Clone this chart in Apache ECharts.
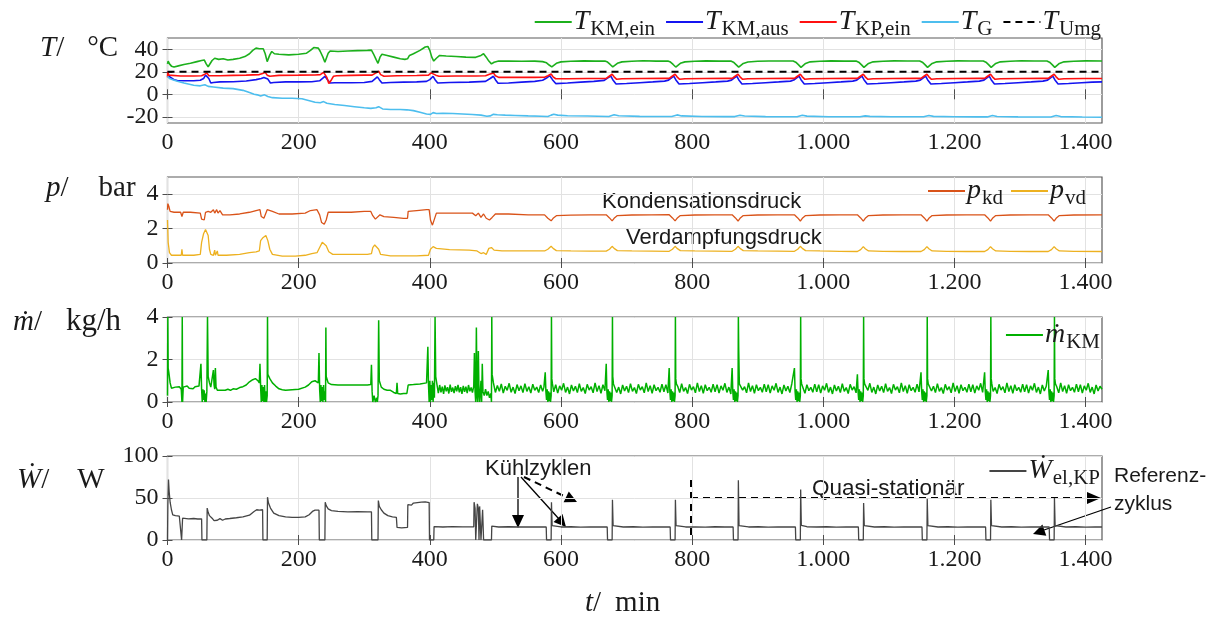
<!DOCTYPE html>
<html>
<head>
<meta charset="utf-8">
<script src="https://cdn.jsdelivr.net/npm/echarts@6/dist/echarts.min.js"></script>
<style>
html,body{margin:0;padding:0;background:#fff;}
#chart{width:1214px;height:620px;}
</style>
</head>
<body>
<div id="chart"></div>
<script>
// ---------- tick labels ----------
const xTicks = [0, 200, 400, 600, 800, 1000, 1200, 1400];
const xTickLabels = ['0', '200', '400', '600', '800', '1.000', '1.200', '1.400'];
const tTicks = [-20, 0, 20, 40];
const pTicks = [0, 2, 4];
const mTicks = [0, 2, 4];
const wTicks = [0, 50, 100];

// ---------- temperatures [min, °C] ----------
const tKmEin = [
[0,27],[1,29.5],[3,27],[6,25],[10,24.3],[15,25],[25,26.5],[35,27.5],[45,29],[52,30],[56,30.5],[59,27],[62,24.5],[64,25],[68,30],[72,32],[75,32.5],[78,31],[85,31.5],[92,30.5],[100,31],[110,32],[118,33.5],[125,36],[130,39],[135,41],[140,40.5],[146,40.5],[149,36],[152,29],[154,28],[156,35],[159,38],[163,36],[170,35.5],[185,35],[200,35.5],[212,36.5],[218,39],[223,41.5],[230,41],[233,38],[237,33],[240,28.5],[242,30],[245,36.5],[248,38.5],[260,38],[275,38.5],[290,38.8],[305,39],[311,39.2],[314,36],[318,31],[321,27.5],[324,33],[327,35.5],[335,34.5],[345,33],[355,31.5],[362,31],[366,31.5],[369,34.5],[375,36],[385,39],[393,42],[397,42.5],[400,39],[403,33],[406,29.5],[410,32],[415,34.5],[425,34],[440,33.5],[455,33],[470,32.8],[478,34.5],[482,36],[486,33],[490,29.5],[494,27],[498,28.5],[505,29.5],[520,29.5],[540,29.3],[560,29.5],[572,29],[578,28],[582,26],[586,24.3],[589,25.5],[593,27.5],[600,28.8],[615,29.3],[635,29.7],[652,29.5],
[667,29.5],[671,28.6],[675,26.5],[679,24.3],[682,25.5],[686,27.5],[693,28.8],[708,29.4],[725,29.8],[745,29.5],
[763,29.6],[767,28.6],[771,26.5],[775,24.2],[778,25.5],[782,27.5],[789,28.8],[804,29.4],[821,29.7],[841,29.5],
[859,29.6],[863,28.5],[867,26.4],[871,24.1],[874,25.4],[878,27.4],[885,28.7],[900,29.3],[917,29.6],[937,29.6],
[954,29.6],[958,28.5],[962,26.3],[966,23.9],[969,25.3],[973,27.4],[980,28.8],[995,29.4],[1012,29.7],[1032,29.5],
[1050,29.6],[1054,28.5],[1058,26.3],[1062,23.9],[1065,25.3],[1069,27.4],[1076,28.8],[1091,29.4],[1108,29.7],[1128,29.6],
[1147,29.6],[1151,28.5],[1155,26.3],[1159,23.9],[1162,25.3],[1166,27.4],[1173,28.8],[1188,29.4],[1205,29.7],[1225,29.6],
[1244,29.6],[1248,28.5],[1252,26.3],[1256,23.9],[1259,25.3],[1263,27.4],[1270,28.8],[1285,29.4],[1302,29.8],[1322,29.6],
[1341,29.6],[1345,28.5],[1349,26.3],[1353,23.9],[1356,25.3],[1360,27.4],[1367,28.8],[1382,29.4],[1400,29.7],[1425,29.6]
];
const tKmAus = [
[0,20],[2,16],[5,14.5],[10,13],[15,12.3],[25,12],[40,12],[50,12.5],[55,14],[58,17],[61,18.5],[63,14],[66,10],[70,10.5],[80,11],[100,11.2],[120,11.8],[135,13],[143,14],[147,15],[150,16],[153,13.5],[157,10],[162,10.5],[180,11],[200,11],[220,11.2],[232,12],[236,14],[240,16],[244,13],[248,10],[255,10.2],[280,10.3],[300,10.5],[312,11.5],[316,13.5],[320,15.5],[323,13],[327,10],[340,10.5],[360,10.8],[380,11],[395,11.5],[400,13],[405,16],[408,13],[412,10],[430,10.5],[460,10.8],[485,11.5],[492,14],[497,16],[500,13],[504,9.8],[520,10],[540,10.8],[560,11.5],[572,12.5],
[578,14.5],[583,16.5],[587,13],[592,9.5],[610,10],[630,10.8],[650,11.5],[666,12.4],
[671,14.3],[676,16.2],[679,13],[684,9.2],[700,9.6],[720,10.3],[740,11],[758,11.7],[764,12.6],
[767,14.3],[772,16.2],[775,13],[780,9.2],[796,9.6],[816,10.3],[836,11],[854,11.7],[860,12.6],
[863,14.3],[868,16.2],[871,13],[876,9.2],[892,9.6],[912,10.3],[932,11],[950,11.7],[955,12.6],
[958,14.3],[963,16.2],[966,13],[971,9.2],[987,9.6],[1007,10.3],[1027,11],[1045,11.7],[1051,12.6],
[1054,14.3],[1059,16.2],[1062,13],[1067,9.2],[1083,9.6],[1103,10.3],[1123,11],[1141,11.7],[1148,12.6],
[1151,14.3],[1156,16.2],[1159,13],[1164,9.2],[1180,9.6],[1200,10.3],[1220,11],[1238,11.7],[1245,12.6],
[1248,14.3],[1253,16.2],[1256,13],[1261,9.2],[1277,9.6],[1297,10.3],[1317,11],[1335,11.7],[1342,12.6],
[1345,14.3],[1350,16.2],[1353,13],[1358,9.2],[1374,9.6],[1394,10.3],[1410,10.8],[1425,11]
];
const tKpEin = [
[0,15],[0.5,20],[2,17],[5,16.5],[20,16.3],[40,16.3],[52,16.5],[56,17.5],[60,19],[63,16.5],[66,15.8],[80,16.5],[100,16.8],[120,17],[140,17.5],[145,18.5],[149,19.5],[152,17],[156,16],[170,16.8],[200,17],[225,17.2],[233,17.5],[238,19.5],[241,20.5],[243,15],[246,9.5],[249,12],[253,16],[258,16.5],[280,16.8],[300,17],[312,17],[318,19],[322,20.5],[325,17.5],[330,16],[350,16.5],[380,16.7],[398,17],[402,19],[405,20.5],[409,17],[414,16],[440,16.2],[470,16.2],[485,16.5],[492,18],[497,19],[500,16.5],[505,15],[530,15],[560,15],[575,15.2],
[580,16.5],[585,18],[588,15.5],[592,13.8],[610,13.8],[640,14],[669,14.1],
[673,15.8],[678,17.8],[681,15.5],[685,13.3],[693,13.8],[723,14],[758,14.1],
[765,14.1],[769,15.8],[774,17.8],[777,15.5],[781,13.3],[789,13.8],[819,14],[854,14.1],
[861,14.1],[865,15.8],[870,17.8],[873,15.5],[877,13.3],[885,13.8],[915,14],[950,14.1],
[956,14.1],[960,15.8],[965,17.8],[968,15.5],[972,13.3],[980,13.8],[1010,14],[1045,14.1],
[1052,14.1],[1056,15.8],[1061,17.8],[1064,15.5],[1068,13.3],[1076,13.8],[1106,14],[1141,14.1],
[1149,14.1],[1153,15.8],[1158,17.8],[1161,15.5],[1165,13.3],[1173,13.8],[1203,14],[1238,14.1],
[1246,14.1],[1250,15.8],[1255,17.8],[1258,15.5],[1262,13.3],[1270,13.8],[1300,14],[1335,14.1],
[1343,14.1],[1347,15.8],[1352,17.8],[1355,15.5],[1359,13.3],[1367,13.8],[1397,14],[1425,14]
];
const tG = [
[0,16],[3,14],[8,13],[15,11.5],[25,10],[40,8],[50,7.5],[57,8.5],[62,7],[70,6.5],[85,5.5],[100,5],[115,3.5],[125,1.5],[132,0],[137,-0.5],[142,-1.5],[148,-0.5],[153,-2],[160,-3],[175,-3.5],[190,-3.5],[205,-4],[215,-5.5],[225,-7],[233,-7.5],[238,-6.5],[243,-8],[255,-9],[270,-10],[285,-11],[300,-12],[310,-12.5],[318,-12],[322,-11],[328,-13],[340,-13.5],[355,-13.5],[365,-13.8],[375,-14.5],[385,-16],[395,-17.5],[401,-17.8],[405,-16.3],[410,-17],[420,-16.8],[435,-17],[450,-17.5],[465,-18],[478,-18.5],[487,-19.5],[492,-19.2],[497,-17.8],[503,-18.2],[515,-18.5],[530,-18.8],[550,-19.2],[570,-19.5],[580,-19.7],[585,-18.5],[589,-17.8],[595,-18.5],[610,-19],[640,-19.3],
[673,-19.7],[681,-18.2],[688,-19.1],[720,-19.6],[755,-19.7],
[769,-19.7],[777,-18.3],[784,-19.2],[815,-19.7],[850,-19.8],
[865,-19.8],[873,-18.6],[880,-19.3],[912,-19.8],[945,-19.9],
[960,-19.9],[968,-18.6],[975,-19.4],[1008,-19.9],[1040,-20],
[1056,-20],[1064,-19.2],[1071,-19.6],[1104,-20],[1138,-20],
[1153,-20],[1161,-18.8],[1168,-19.6],[1200,-20],[1235,-20.1],
[1250,-20.1],[1258,-18.8],[1265,-19.7],[1297,-20.1],[1332,-20.2],
[1347,-20.2],[1355,-18.9],[1362,-19.8],[1395,-20.2],[1425,-20.4]
];
const tUmg = [[0,20],[1425,20]];

// ---------- pressures [min, bar] ----------
const pKd = [
[0,3.1],[0.5,3.45],[2,3.3],[4,3.0],[10,2.95],[20,2.95],[22,2.7],[24,2.95],[35,2.95],[50,2.9],[52,2.55],[56,2.5],[58,2.95],[62,3.0],[66,2.95],[70,3.1],[72,2.9],[75,3.1],[77,2.9],[80,3.05],[84,2.8],[95,2.8],[110,2.85],[125,2.95],[135,3.05],[141,3.1],[143,2.7],[147,2.6],[150,2.7],[152,3.1],[155,3.15],[160,3.0],[170,2.85],[190,2.85],[210,2.9],[218,3.05],[228,3.1],[232,2.8],[235,2.35],[239,2.25],[242,2.5],[245,2.95],[255,2.95],[280,2.95],[300,3.0],[310,3.0],[313,2.75],[317,2.55],[320,2.65],[324,2.8],[330,2.7],[345,2.65],[360,2.6],[366,2.6],[367,3.0],[380,3.05],[395,3.1],[399,3.1],[401,2.5],[404,2.2],[407,2.3],[410,2.9],[420,2.9],[440,2.9],[465,2.9],[470,2.75],[474,2.9],[478,2.65],[482,2.85],[486,2.6],[491,2.5],[495,2.65],[500,2.85],[520,2.85],[550,2.8],
[575,2.8],[580,2.6],[585,2.45],[588,2.6],[593,2.75],[615,2.78],[645,2.8],
[669,2.8],[674,2.62],[678,2.45],[681,2.6],[686,2.76],[708,2.79],[738,2.8],
[765,2.81],[770,2.62],[774,2.45],[777,2.6],[782,2.76],[804,2.79],[834,2.8],
[861,2.8],[866,2.62],[870,2.44],[873,2.6],[878,2.76],[900,2.79],[930,2.8],
[956,2.8],[961,2.62],[965,2.44],[968,2.6],[973,2.76],[995,2.79],[1025,2.8],
[1052,2.8],[1057,2.62],[1061,2.43],[1064,2.6],[1069,2.76],[1091,2.79],[1121,2.8],
[1149,2.8],[1154,2.62],[1158,2.43],[1161,2.6],[1166,2.76],[1188,2.79],[1218,2.8],
[1246,2.8],[1251,2.62],[1255,2.43],[1258,2.6],[1263,2.76],[1285,2.79],[1315,2.8],
[1343,2.8],[1348,2.62],[1352,2.43],[1355,2.6],[1360,2.76],[1382,2.79],[1425,2.8]
];
const pVd = [
[0,2.5],[1,1.2],[3,0.6],[6,0.45],[15,0.45],[21,0.45],[22,0.8],[23,0.45],[40,0.45],[50,0.5],[52,1.2],[55,1.7],[58,1.95],[60,2.0],[62,1.6],[64,0.8],[66,0.5],[70,0.45],[72,0.75],[73,0.45],[76,0.7],[77,0.45],[90,0.45],[110,0.5],[125,0.6],[135,0.65],[140,0.7],[142,1.3],[145,1.45],[148,1.55],[150,1.6],[153,1.3],[156,0.8],[160,0.5],[175,0.4],[195,0.4],[210,0.45],[220,0.55],[228,0.6],[232,0.9],[236,1.2],[239,1.3],[242,1.0],[246,0.65],[252,0.5],[280,0.5],[305,0.5],[311,0.55],[313,0.9],[316,1.05],[319,1.1],[322,0.8],[325,0.5],[340,0.42],[365,0.42],[380,0.42],[398,0.45],[401,0.8],[405,0.95],[410,0.85],[430,0.78],[460,0.75],[472,0.7],[478,0.55],[482,0.6],[486,0.5],[490,0.85],[494,0.9],[498,0.75],[510,0.7],[540,0.7],
[575,0.7],[580,0.8],[585,0.97],[588,0.85],[593,0.72],[615,0.7],[645,0.69],
[669,0.69],[674,0.8],[678,0.97],[681,0.85],[686,0.72],[708,0.7],[738,0.69],
[765,0.68],[770,0.8],[774,0.97],[777,0.85],[782,0.72],[804,0.7],[834,0.69],
[861,0.68],[866,0.8],[870,0.97],[873,0.85],[878,0.72],[900,0.7],[930,0.69],
[956,0.68],[961,0.8],[965,0.97],[968,0.85],[973,0.72],[995,0.7],[1025,0.68],
[1052,0.67],[1057,0.78],[1061,0.95],[1064,0.83],[1069,0.7],[1091,0.68],[1121,0.67],
[1149,0.67],[1154,0.78],[1158,0.95],[1161,0.83],[1166,0.7],[1188,0.68],[1218,0.67],
[1246,0.67],[1251,0.78],[1255,0.95],[1258,0.83],[1263,0.7],[1285,0.68],[1315,0.67],
[1343,0.67],[1348,0.78],[1352,0.95],[1355,0.83],[1360,0.7],[1382,0.68],[1425,0.67]
];

// ---------- coolant mass flow [min, kg/h] ----------
const mKm = [
[0,0.3],[0.5,4],[1,1.6],[2,1.4],[4,0.9],[6,0.65],[9,0.6],[12,0.7],[15,0.62],[18,0.72],[21,0.6],[22,0],[22.5,4],[23,0],[24,0.7],[27,0.62],[30,0.75],[33,0.65],[36,0.7],[39,0.62],[42,0.72],[45,0.68],[48,0.75],[50,0.7],[51,1.8],[52,0.6],[53,0],[54,0.6],[55,0.1],[56,0.55],[57,0],[58,0.4],[59,0],[60,0.5],[61,4],[62,1.2],[64,0.9],[66,0.7],[68,0.65],[70,1.5],[71,0.8],[72,0.6],[73,1.6],[74,0.7],[76,0.55],[79,0.5],[82,0.55],[85,0.48],[88,0.55],[92,0.6],[96,0.55],[100,0.62],[105,0.6],[110,0.68],[115,0.72],[120,0.8],[125,0.95],[130,1.05],[134,1.1],[138,1.0],[140,0.9],[141,1.8],[142,0.7],[143,0],[144,0.8],[145,0.05],[146,0.7],[147,0],[148,0.8],[149,0],[150,0.5],[151,0],[152,0.3],[152.5,4],[153,1.3],[156,1.1],[160,0.9],[165,0.75],[170,0.62],[175,0.58],[180,0.55],[190,0.58],[200,0.6],[210,0.7],[215,0.8],[220,0.95],[225,1.0],[228,0.95],[230,0.9],[231,2.3],[232,0.6],[233,0],[234,0.8],[235,0.05],[236,0.7],[237,0],[238,0.8],[239,0.1],[240,0.5],[241,0],[241.5,3.5],[242,1.2],[245,0.9],[250,0.82],[260,0.8],[275,0.8],[290,0.8],[305,0.8],[310,0.82],[311,1.75],[312,0.5],[313,0],[315,0.3],[317,0],[319,0.2],[320,0],[321,0.3],[322,3.85],[323,1.0],[326,0.7],[330,0.6],[335,0.55],[340,0.55],[345,0.45],[349,0.4],[350,0.9],[351,0.4],[355,0.38],[360,0.4],[365,0.4],[366,0.45],[367,0.8],[375,0.82],[385,0.85],[395,0.9],[397,2.6],[398,0.8],[399,0],[400,1.0],[401,0],[402,0.8],[403,0.1],[404,1.0],[405,0],[406,0.9],[407,0.2],[408,4],[409,1.2],[411,0.8],
[413,0.42],[415,0.8],[417,0.45],[419,0.72],[421,0.38],[423,0.78],[425,0.5],[427,0.7],[429,0.4],[431,0.82],[433,0.48],[435,0.68],[437,0.42],[439,0.75],[441,0.5],[443,0.8],[445,0.45],[447,0.7],[449,0.38],[451,0.76],[453,0.48],[455,0.72],[457,0.42],[459,0.8],[461,0.5],[463,0.68],[465,0.44],[467,0.75],
[468,2.3],[469,0.5],[470,0],[471,3.5],[472,0.3],[473,0],[474,2.4],[475,0.4],[476,0],[478,1.0],[479,0],[480,1.8],[481,0.5],[483,0.3],[485,0.6],[487,0.3],[489,0.5],[491,0.2],[493,0.4],[494,0],[494.5,4],[495,1.3],
[497,0.9],[500,0.45],[503,0.78],[506,0.5],[509,0.85],[512,0.42],[515,0.74],[518,0.55],[521,0.88],[524,0.46],[527,0.7],[530,0.4],[533,0.82],[536,0.53],[539,0.76],[542,0.44],[545,0.86],[548,0.5],[551,0.72],[554,0.42],[557,0.84],[560,0.55],[563,0.7],[566,0.45],[569,0.8],[572,0.5],[574,0.7],
[576,1.4],[577,0.5],[578,0.1],[579,0.6],[580,0],[581,0.5],[582,0.05],[583,0.45],[584,0],[585,0.3],[585.5,4],[586,1.1],[587,0.85],
[589,0.48],[592,0.82],[595,0.42],[598,0.76],[601,0.55],[604,0.88],[607,0.45],[610,0.7],[613,0.38],[616,0.8],[619,0.52],[622,0.74],[625,0.44],[628,0.86],[631,0.5],[634,0.68],[637,0.4],[640,0.83],[643,0.56],[646,0.72],[649,0.43],[652,0.9],[655,0.49],[658,0.77],[661,0.41],[664,0.81],[667,0.53],
[669,1.8],[670,0.5],[671,0.1],[672,0.6],[673,0],[674,0.5],[675,0.05],[676,0.45],[677,0],[678,0.3],[678.5,4],[679,1.2],[680,0.85],
[682,0.88],[685,0.45],[688,0.7],[691,0.38],[694,0.8],[697,0.52],[700,0.74],[703,0.44],[706,0.86],[709,0.5],[712,0.68],[715,0.4],[718,0.83],[721,0.56],[724,0.72],[727,0.43],[730,0.9],[733,0.49],[736,0.77],[739,0.41],[742,0.81],[745,0.53],[748,0.69],[751,0.46],[754,0.84],[757,0.48],[760,0.82],[763,0.42],
[765,1.6],[766,0.5],[767,0.1],[768,0.6],[769,0],[770,0.5],[771,0.05],[772,0.45],[773,0],[774,0.3],[774.5,4],[775,1.1],[776,0.85],
[778,0.74],[781,0.44],[784,0.86],[787,0.5],[790,0.68],[793,0.4],[796,0.83],[799,0.56],[802,0.72],[805,0.43],[808,0.9],[811,0.49],[814,0.77],[817,0.41],[820,0.81],[823,0.53],[826,0.69],[829,0.46],[832,0.84],[835,0.48],[838,0.82],[841,0.42],[844,0.76],[847,0.55],[850,0.88],[853,0.45],[856,0.7],[859,0.38],
[861,1.6],[862,0.5],[863,0.1],[864,0.6],[865,0],[866,0.5],[867,0.05],[868,0.45],[869,0],[870,0.3],[870.5,4],[871,2.5],[872,0.85],
[874,0.83],[877,0.56],[880,0.72],[883,0.43],[886,0.9],[889,0.49],[892,0.77],[895,0.41],[898,0.81],[901,0.53],[904,0.69],[907,0.46],[910,0.84],[913,0.48],[916,0.82],[919,0.42],[922,0.76],[925,0.55],[928,0.88],[931,0.45],[934,0.7],[937,0.38],[940,0.8],[943,0.52],[946,0.74],[949,0.44],[952,0.86],
[956,1.6],[957,0.5],[958,0.1],[959,0.6],[960,0],[961,0.5],[962,0.05],[963,0.45],[964,0],[965,0.3],[965.5,4],[966,1.1],[967,0.85],
[969,0.77],[972,0.41],[975,0.81],[978,0.53],[981,0.69],[984,0.46],[987,0.84],[990,0.48],[993,0.82],[996,0.42],[999,0.76],[1002,0.55],[1005,0.88],[1008,0.45],[1011,0.7],[1014,0.38],[1017,0.8],[1020,0.52],[1023,0.74],[1026,0.44],[1029,0.86],[1032,0.5],[1035,0.68],[1038,0.4],[1041,0.83],[1044,0.56],[1047,0.72],[1050,0.43],
[1052,1.3],[1053,0.5],[1054,0.1],[1055,0.6],[1056,0],[1057,0.5],[1058,0.05],[1059,0.45],[1060,0],[1061,0.3],[1061.5,4],[1062,1.1],[1063,0.85],
[1065,0.76],[1068,0.55],[1071,0.88],[1074,0.45],[1077,0.7],[1080,0.38],[1083,0.8],[1086,0.52],[1089,0.74],[1092,0.44],[1095,0.86],[1098,0.5],[1101,0.68],[1104,0.4],[1107,0.83],[1110,0.56],[1113,0.72],[1116,0.43],[1119,0.9],[1122,0.49],[1125,0.77],[1128,0.41],[1131,0.81],[1134,0.53],[1137,0.69],[1140,0.46],[1143,0.84],[1146,0.48],
[1149,1.4],[1150,0.5],[1151,0.1],[1152,0.6],[1153,0],[1154,0.5],[1155,0.05],[1156,0.45],[1157,0],[1158,0.3],[1158.5,4],[1159,1.1],[1160,0.85],
[1162,0.8],[1165,0.52],[1168,0.74],[1171,0.44],[1174,0.86],[1177,0.5],[1180,0.68],[1183,0.4],[1186,0.83],[1189,0.56],[1192,0.72],[1195,0.43],[1198,0.9],[1201,0.49],[1204,0.77],[1207,0.41],[1210,0.81],[1213,0.53],[1216,0.69],[1219,0.46],[1222,0.84],[1225,0.48],[1228,0.82],[1231,0.42],[1234,0.76],[1237,0.55],[1240,0.88],[1243,0.45],
[1246,1.4],[1247,0.5],[1248,0.1],[1249,0.6],[1250,0],[1251,0.5],[1252,0.05],[1253,0.45],[1254,0],[1255,0.3],[1255.5,4],[1256,1.1],[1257,0.85],
[1259,0.5],[1262,0.68],[1265,0.4],[1268,0.83],[1271,0.56],[1274,0.72],[1277,0.43],[1280,0.9],[1283,0.49],[1286,0.77],[1289,0.41],[1292,0.81],[1295,0.53],[1298,0.69],[1301,0.46],[1304,0.84],[1307,0.48],[1310,0.82],[1313,0.42],[1316,0.76],[1319,0.55],[1322,0.88],[1325,0.45],[1328,0.7],[1331,0.38],[1334,0.8],[1337,0.52],[1340,0.74],
[1343,1.5],[1344,0.5],[1345,0.1],[1346,0.6],[1347,0],[1348,0.5],[1349,0.05],[1350,0.45],[1351,0],[1352,0.3],[1352.5,4],[1353,1.1],[1354,0.85],
[1356,0.72],[1359,0.43],[1362,0.9],[1365,0.49],[1368,0.77],[1371,0.41],[1374,0.81],[1377,0.53],[1380,0.69],[1383,0.46],[1386,0.84],[1389,0.48],[1392,0.82],[1395,0.42],[1398,0.76],[1401,0.55],[1404,0.88],[1407,0.45],[1410,0.7],[1413,0.38],[1416,0.8],[1419,0.52],[1422,0.74],[1425,0.6]
];

// ---------- compressor power [min, W] ----------
const wElKp = [
[0,0],[0.5,42],[1.5,72],[2.5,58],[4,45],[6,36],[8,30],[12,29],[18,28.5],[21,28],[21.5,0],[22.5,0],[23,26],[26,25.5],[32,25.2],[40,25.6],[46,25],[52,25.2],[52.5,0],[60,0],[60.5,38],[62,33],[64,29],[65,30],[66,27],[67,31],[68,26],[70,28],[71,23],[73,24],[76,23.5],[80,25.5],[84,23.5],[88,25],[95,25.6],[105,26.5],[115,27.5],[125,29.5],[132,34],[136,36],[140,35.5],[145,36],[145.5,0],[152,0],[152.5,51],[154,44],[157,38],[162,32],[170,29],[180,27.5],[190,27],[200,27],[210,27.5],[216,30],[221,34],[225,35.5],[231,35.5],[231.5,0],[240,0],[240.5,45],[242,41],[245,37],[250,35],[260,34],[275,33.5],[290,33.8],[305,33.5],[311,33.5],[311.5,0],[321,0],[321.5,47],[323,40],[326,36],[330,32],[336,29],[343,27.5],[349,27],[350,15],[357,14.5],[366,15],[366.5,42],[369,43.5],[372,41.5],[375,44],[378,42],[381,44.5],[384,42.5],[387,45],[390,43],[393,45.5],[396,43.5],[399,44.5],[399.5,0],[406,0],[406.5,16],[420,15.5],[435,16],[450,15.6],[467,15.8],[467.5,45],[469,38],[470,0],[472,0],[472.5,43],[474,38],[475,0],[476,40],[478,0],[480,0],[480.5,36],[482,0],[494,0],[494.5,16.5],[505,15.5],[520,15.8],[535,15.5],[550,15.7],[565,15.5],[577.5,15.5],
[578,0],[585,0],[585.5,45],[586.5,17],[588,15.8],[600,15.5],[615,15.8],[630,15.4],[645,15.7],[660,15.5],[670.5,15.6],
[671,0],[678,0],[678.5,48],[679.5,17],[681,15.8],[695,15.5],[710,15.8],[725,15.4],[740,15.7],[755,15.5],[766.5,15.6],
[767,0],[774,0],[774.5,48],[775.5,17],[777,15.8],[790,15.5],[805,15.7],[820,15.4],[835,15.8],[850,15.5],[862.5,15.6],
[863,0],[870,0],[870.5,71],[871.5,17],[873,15.8],[886,15.5],[901,15.8],[916,15.4],[931,15.7],[946,15.5],[957.5,15.6],
[958,0],[965,0],[965.5,60],[966.5,17.5],[968,16.2],[975,15.8],[990,15.5],[1005,15.8],[1020,15.4],[1035,15.7],[1053.5,15.5],
[1054,0],[1061,0],[1061.5,44],[1062.5,17],[1064,15.8],[1078,15.5],[1093,15.8],[1108,15.4],[1123,15.7],[1138,15.5],[1150.5,15.6],
[1151,0],[1158,0],[1158.5,49],[1159.5,17],[1161,15.8],[1175,15.5],[1190,15.8],[1205,15.4],[1220,15.7],[1235,15.5],[1247.5,15.6],
[1248,0],[1255,0],[1255.5,48],[1256.5,17],[1258,15.8],[1272,15.5],[1287,15.8],[1302,15.4],[1317,15.7],[1332,15.5],[1344.5,15.6],
[1345,0],[1352,0],[1352.5,50],[1353.5,17],[1355,15.8],[1370,15.5],[1385,15.8],[1400,15.4],[1415,15.7],[1425,15.5]
];

// ---------- layout ----------
const SERIF = 'Liberation Serif';
const SANS = 'Liberation Sans';
const INK = '#1a1a1a';
// labelSets: the tight temperature labels are split over two overlaid left axes
const panels = [
  { top: 38,  height: 85, min: -25.5, max: 50,  ticks: tTicks, labelSets: [[-20, 20], [0, 40]] },
  { top: 177, height: 86, min: 0,     max: 5,   ticks: pTicks, labelSets: [pTicks] },
  { top: 317, height: 85, min: 0,     max: 4,   ticks: mTicks, labelSets: [mTicks] },
  { top: 456, height: 84, min: 0,     max: 100, ticks: wTicks, labelSets: [wTicks] }
];
const tickLine = { color: '#4d4d4d', width: 1 };
const gridLine = { color: '#e2e2e2', width: 1 };
const yLabelStyle = { fontFamily: SERIF, fontSize: 24, color: INK, margin: 9,
                      hideOverlap: false, showMinLabel: true, showMaxLabel: true };

const xAxis = [], yAxis = [], extraY = [];
panels.forEach((p, i) => {
  xAxis.push({
    type: 'value', gridIndex: i, min: 0, max: 1425, position: 'bottom',
    axisLine: { show: false },
    axisTick: { inside: true, length: 5, lineStyle: tickLine, customValues: xTicks },
    axisLabel: { customValues: xTicks, formatter: v => xTickLabels[xTicks.indexOf(v)],
                 fontFamily: SERIF, fontSize: 24, color: INK, margin: 8,
                 hideOverlap: false, showMinLabel: true, showMaxLabel: true },
    splitLine: { show: true, lineStyle: gridLine }
  });
  xAxis.push({
    type: 'value', gridIndex: i, min: 0, max: 1425, position: 'top',
    axisLine: { show: false },
    axisTick: { inside: true, length: 5, lineStyle: tickLine, customValues: xTicks },
    axisLabel: { show: false }, splitLine: { show: false }
  });
  yAxis.push({
    type: 'value', gridIndex: i, min: p.min, max: p.max, position: 'left',
    axisLine: { show: false },
    axisTick: { inside: true, length: 5, lineStyle: tickLine, customValues: p.ticks },
    axisLabel: Object.assign({ customValues: p.labelSets[0] }, yLabelStyle),
    splitLine: { show: true, lineStyle: gridLine }
  });
  yAxis.push({
    type: 'value', gridIndex: i, min: p.min, max: p.max, position: 'right',
    axisLine: { show: false },
    axisTick: { inside: true, length: 5, lineStyle: tickLine, customValues: p.ticks },
    axisLabel: { show: false }, splitLine: { show: false }
  });
  p.labelSets.slice(1).forEach(set => extraY.push({
    type: 'value', gridIndex: i, min: p.min, max: p.max, position: 'left', offset: 0,
    axisLine: { show: false }, axisTick: { show: false }, splitLine: { show: false },
    axisLabel: Object.assign({ customValues: set }, yLabelStyle)
  }));
});
yAxis.push(...extraY);

function line(name, data, panel, color, width, extra) {
  return {
    name, type: 'line', data, xAxisIndex: panel * 2, yAxisIndex: panel * 2,
    symbol: 'none', showSymbol: false, animation: false, clip: true,
    lineStyle: Object.assign({ color, width }, extra || {}),
    itemStyle: { color }
  };
}

const series = [
  line('T_KM,ein', tKmEin, 0, '#1cb01c', 1.6),
  line('T_KM,aus', tKmAus, 0, '#1414f0', 1.6),
  line('T_KP,ein', tKpEin, 0, '#ff1010', 1.6),
  line('T_G', tG, 0, '#4dbeee', 1.6),
  line('T_Umg', tUmg, 0, '#000000', 2, { type: [7, 5] }),
  line('p_kd', pKd, 1, '#d95319', 1.3),
  line('p_vd', pVd, 1, '#edb120', 1.3),
  line('m_KM', mKm, 2, '#00b000', 1.5),
  line('W_el,KP', wElKp, 3, '#454545', 1.3)
];

const legendText = {
  'T_KM,ein': '{v|T}{s|KM,ein}',
  'T_KM,aus': '{v|T}{s|KM,aus}',
  'T_KP,ein': '{v|T}{s|KP,ein}',
  'T_G': '{v|T}{s|G}',
  'T_Umg': '{v|T}{s|Umg}',
  'p_kd': '{v|p}{s|kd}',
  'p_vd': '{v|p}{s|vd}',
  'm_KM': '{v|ṁ}{s|KM}',
  'W_el,KP': '{v|Ẇ}{s|el,KP}'
};
const legendRich = {
  v: { fontFamily: SERIF, fontStyle: 'italic', fontSize: 28, color: INK },
  s: { fontFamily: SERIF, fontSize: 21, color: INK, padding: [15, 0, 0, 1] }
};
function legend(names, top, right, gap) {
  return {
    data: names, top, right, orient: 'horizontal', padding: 0,
    itemWidth: 37, itemHeight: 12, itemGap: gap, selectedMode: false,
    itemStyle: { opacity: 0 },
    formatter: n => legendText[n],
    textStyle: { rich: legendRich, padding: [0, 0, 0, -3] }
  };
}

// ---------- annotations ----------
const txt = (x, y, text, size) => ({
  type: 'text', x, y, silent: true,
  style: { text, fontFamily: SANS, fontSize: size || 22, fill: INK, align: 'left', verticalAlign: 'middle' }
});
const axisTitle = (x, y, sym, unit, gap, unitSize) => ({
  type: 'text', x, y, silent: true,
  style: {
    text: '{i|' + sym + '}{r|/}{u|' + unit + '}', align: 'left', verticalAlign: 'middle',
    rich: {
      i: { fontFamily: SERIF, fontStyle: 'italic', fontSize: 29, fill: INK, color: INK },
      r: { fontFamily: SERIF, fontSize: 29, fill: INK, color: INK },
      u: { fontFamily: SERIF, fontSize: unitSize || 29, fill: INK, color: INK, padding: [0, 0, 0, gap] }
    }
  }
});
const seg = (x1, y1, x2, y2, dash) => ({
  type: 'line', silent: true,
  shape: { x1, y1, x2, y2 },
  style: { stroke: '#000', lineWidth: dash ? 2 : 1.3, lineDash: dash ? [7, 5] : null }
});
const head = (pts) => ({ type: 'polygon', silent: true, shape: { points: pts }, style: { fill: '#000' } });

const graphic = [
  axisTitle(40, 48, 'T', '°C', 23),
  axisTitle(46, 188, 'p', 'bar', 30),
  axisTitle(13, 322, 'ṁ', 'kg/h', 24, 31),
  axisTitle(17, 480, 'Ẇ', 'W', 28),
  axisTitle(585, 603, 't', 'min', 14),
  txt(602, 202, 'Kondensationsdruck', 22),
  txt(626, 238, 'Verdampfungsdruck', 22),
  txt(485, 469, 'Kühlzyklen', 22),
  txt(812, 489, 'Quasi-stationär', 22.5),
  txt(1114, 476, 'Referenz-', 21),
  txt(1114, 504, 'zyklus', 21),
  // arrows from "Kühlzyklen"
  seg(518, 477, 518, 516),
  head([[518, 528], [512, 515], [524, 515]]),
  seg(521, 477, 559, 519),
  head([[566, 527], [553.5, 522.1], [562.5, 514.1]]),
  seg(524, 477, 566, 497, true),
  head([[577, 502], [563.6, 502.3], [568.8, 491.5]]),
  // quasi-stationary range
  seg(691, 480, 691, 540, true),
  seg(691, 498, 1088, 498, true),
  head([[1101, 498], [1087, 492], [1087, 504]]),
  // reference cycle pointer
  seg(1111, 507, 1044, 530),
  head([[1033, 534], [1042.4, 524.4], [1046.3, 535.8]])
];

const chart = echarts.init(document.getElementById('chart'), null, { renderer: 'canvas' });
chart.setOption({
  backgroundColor: '#ffffff',
  animation: false,
  grid: panels.map(p => ({
    left: 167.5, right: 112, top: p.top, height: p.height,
    show: true, borderColor: '#5a5a5a', borderWidth: 1.2, backgroundColor: 'transparent'
  })),
  xAxis, yAxis, series,
  legend: [
    legend(['T_KM,ein', 'T_KM,aus', 'T_KP,ein', 'T_G', 'T_Umg'], 8, 113, 10),
    legend(['p_kd', 'p_vd'], 177, 128, 7),
    legend(['m_KM'], 321, 114, 7),
    legend(['W_el,KP'], 457, 114, 7)
  ],
  graphic
});
</script>
</body>
</html>
